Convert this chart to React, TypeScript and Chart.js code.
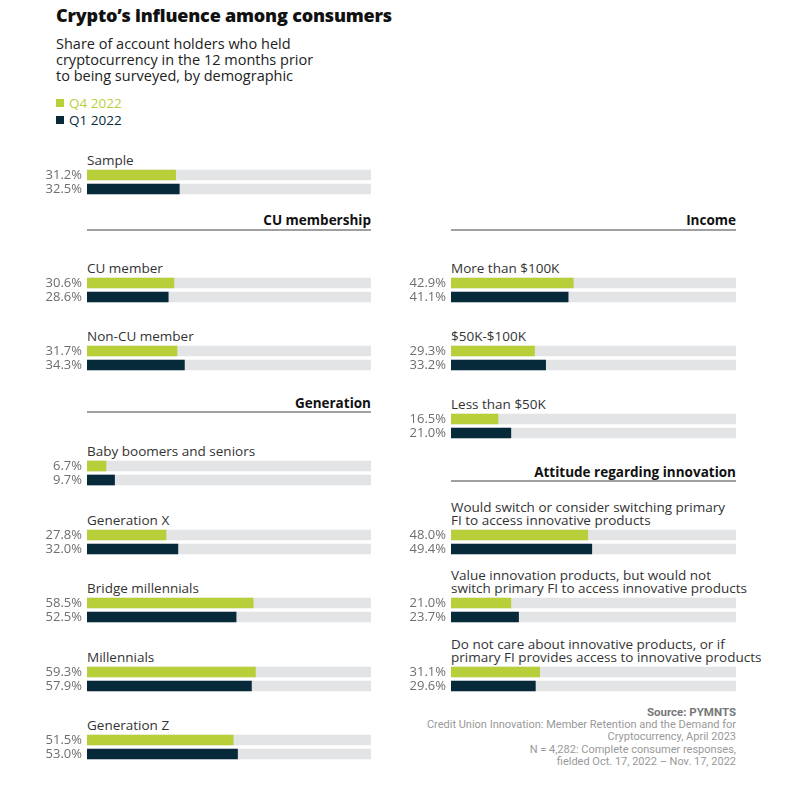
import React, { useEffect, useRef } from 'react';
import { Chart, registerables } from 'chart.js';

Chart.register(...registerables);

// ---------- data ----------
const seriesNames = ['Q4 2022', 'Q1 2022'];
const categories = [
  'Sample',
  'CU member',
  'Non-CU member',
  'Baby boomers and seniors',
  'Generation X',
  'Bridge millennials',
  'Millennials',
  'Generation Z',
  'More than $100K',
  '$50K-$100K',
  'Less than $50K',
  'Would switch or consider switching primary\nFI to access innovative products',
  'Value innovation products, but would not\nswitch primary FI to access innovative products',
  'Do not care about innovative products, or if\nprimary FI provides access to innovative products',
];
const q4_2022 = [31.2, 30.6, 31.7, 6.7, 27.8, 58.5, 59.3, 51.5, 42.9, 29.3, 16.5, 48.0, 21.0, 31.1];
const q1_2022 = [32.5, 28.6, 34.3, 9.7, 32.0, 52.5, 57.9, 53.0, 41.1, 33.2, 21.0, 49.4, 23.7, 29.6];
const sectionTitles = ['CU membership', 'Generation', 'Income', 'Attitude regarding innovation'];
const axisMax = 100;

// ---------- layout (positions only) ----------
const COLS = [
  { x: 87, w: 284 },
  { x: 451, w: 285 },
];
const itemCol = [0, 0, 0, 0, 0, 0, 0, 0, 1, 1, 1, 1, 1, 1];
const itemBarY = [175, 283, 351, 466, 535, 603, 672, 740, 283, 351, 419, 535, 603, 672];
const sectionCol = [0, 0, 1, 1];
const sectionTextY = [220, 403, 220, 472];
const sectionLineY = [229, 411, 229, 480];

const GREEN = '#b8cf3a';
const DARK = '#072a3a';
const TRACK = '#e3e4e6';
const FONT = '"Open Sans", "Noto Sans", sans-serif';
const LABEL_W = 47;
const BAR_GAP = 14;
const LINE_H = 13;

function fmt(v: number) {
  return v.toFixed(1) + '%';
}

function PairChart({ index }: { index: number }) {
  const ref = useRef<HTMLCanvasElement | null>(null);
  const col = COLS[itemCol[index]];
  const top = itemBarY[index] - BAR_GAP / 2;
  useEffect(() => {
    if (!ref.current) return;
    const v4 = q4_2022[index];
    const v1 = q1_2022[index];
    const chart = new Chart(ref.current, {
      type: 'bar',
      data: {
        labels: [fmt(v4), fmt(v1)],
        datasets: [
          {
            label: seriesNames.join(' / '),
            data: [v4, v1],
            backgroundColor: [GREEN, DARK],
            barThickness: 10,
            grouped: false,
            order: 0,
          },
          {
            label: 'track',
            data: [axisMax, axisMax],
            backgroundColor: TRACK,
            barThickness: 10,
            grouped: false,
            order: 1,
          },
        ],
      },
      options: {
        indexAxis: 'y',
        responsive: false,
        maintainAspectRatio: false,
        animation: false,
        layout: { padding: 0 },
        plugins: { legend: { display: false }, tooltip: { enabled: false } },
        scales: {
          x: { display: false, min: 0, max: axisMax },
          y: {
            grid: { display: false, drawTicks: false },
            border: { display: false },
            ticks: { padding: 5, autoSkip: false, color: '#6e6e6e', font: { family: FONT, size: 13 } },
            afterFit: (s: any) => {
              s.width = LABEL_W;
              s.paddingTop = 0;
              s.paddingBottom = 0;
            },
          },
        },
      },
    } as any);
    return () => chart.destroy();
  }, [index]);
  return (
    <canvas
      ref={ref}
      width={LABEL_W + col.w}
      height={BAR_GAP * 2}
      style={{ position: 'absolute', left: col.x - LABEL_W, top, width: LABEL_W + col.w, height: BAR_GAP * 2, display: 'block' }}
    />
  );
}

export default function App() {
  useEffect(() => {
    document.body.style.margin = '0';
  }, []);
  return (
    <div style={{ position: 'absolute', left: 0, top: 0, width: 800, height: 792, background: '#fff', fontFamily: FONT, overflow: 'hidden' }}>
      <div style={{ position: 'absolute', left: 56, top: 2, fontSize: 18, fontWeight: 800, color: '#111', lineHeight: '26px', letterSpacing: -0.2 }}>
        Crypto’s influence among consumers
      </div>
      <div style={{ position: 'absolute', left: 56, top: 36, fontSize: 14.5, color: '#222', lineHeight: '16px' }}>
        Share of account holders who held
        <br />
        cryptocurrency in the 12 months prior
        <br />
        to being surveyed, by demographic
      </div>
      {seriesNames.map((n, i) => (
        <div key={n} style={{ position: 'absolute', left: 56, top: 95 + i * 17, height: 16, display: 'flex', alignItems: 'center' }}>
          <span style={{ display: 'inline-block', width: 8, height: 8, background: i === 0 ? GREEN : DARK, marginRight: 5 }} />
          <span style={{ fontSize: 13.5, color: i === 0 ? GREEN : DARK, lineHeight: '16px' }}>{n}</span>
        </div>
      ))}
      {sectionTitles.map((t, i) => {
        const col = COLS[sectionCol[i]];
        return (
          <React.Fragment key={t}>
            <div style={{ position: 'absolute', left: col.x, width: col.w, top: sectionTextY[i] - 9, textAlign: 'right', fontSize: 13.5, fontWeight: 700, color: '#111', lineHeight: '18px' }}>
              {t}
            </div>
            <div style={{ position: 'absolute', left: col.x, width: col.w, top: sectionLineY[i], height: 2, background: '#a0a0a0' }} />
          </React.Fragment>
        );
      })}
      {categories.map((c, i) => {
        const col = COLS[itemCol[i]];
        const n = c.split('\n').length;
        const top = itemBarY[i] - 15 - LINE_H / 2 - (n - 1) * LINE_H;
        return (
          <div key={c} style={{ position: 'absolute', left: col.x, top, fontSize: 13.5, color: '#333', lineHeight: LINE_H + 'px', whiteSpace: 'pre' }}>
            {c}
          </div>
        );
      })}
      {categories.map((c, i) => (
        <PairChart key={'ch' + i} index={i} />
      ))}
      <div style={{ position: 'absolute', right: 800 - 736, top: 706, textAlign: 'right', fontFamily: 'Roboto, sans-serif', color: '#999', fontSize: 11, lineHeight: '12.5px' }}>
        <div style={{ fontWeight: 700, color: '#777', fontSize: 11.5 }}>Source: PYMNTS</div>
        <div>Credit Union Innovation: Member Retention and the Demand for</div>
        <div>Cryptocurrency, April 2023</div>
        <div>N = 4,282: Complete consumer responses,</div>
        <div>fielded Oct. 17, 2022 – Nov. 17, 2022</div>
      </div>
    </div>
  );
}
